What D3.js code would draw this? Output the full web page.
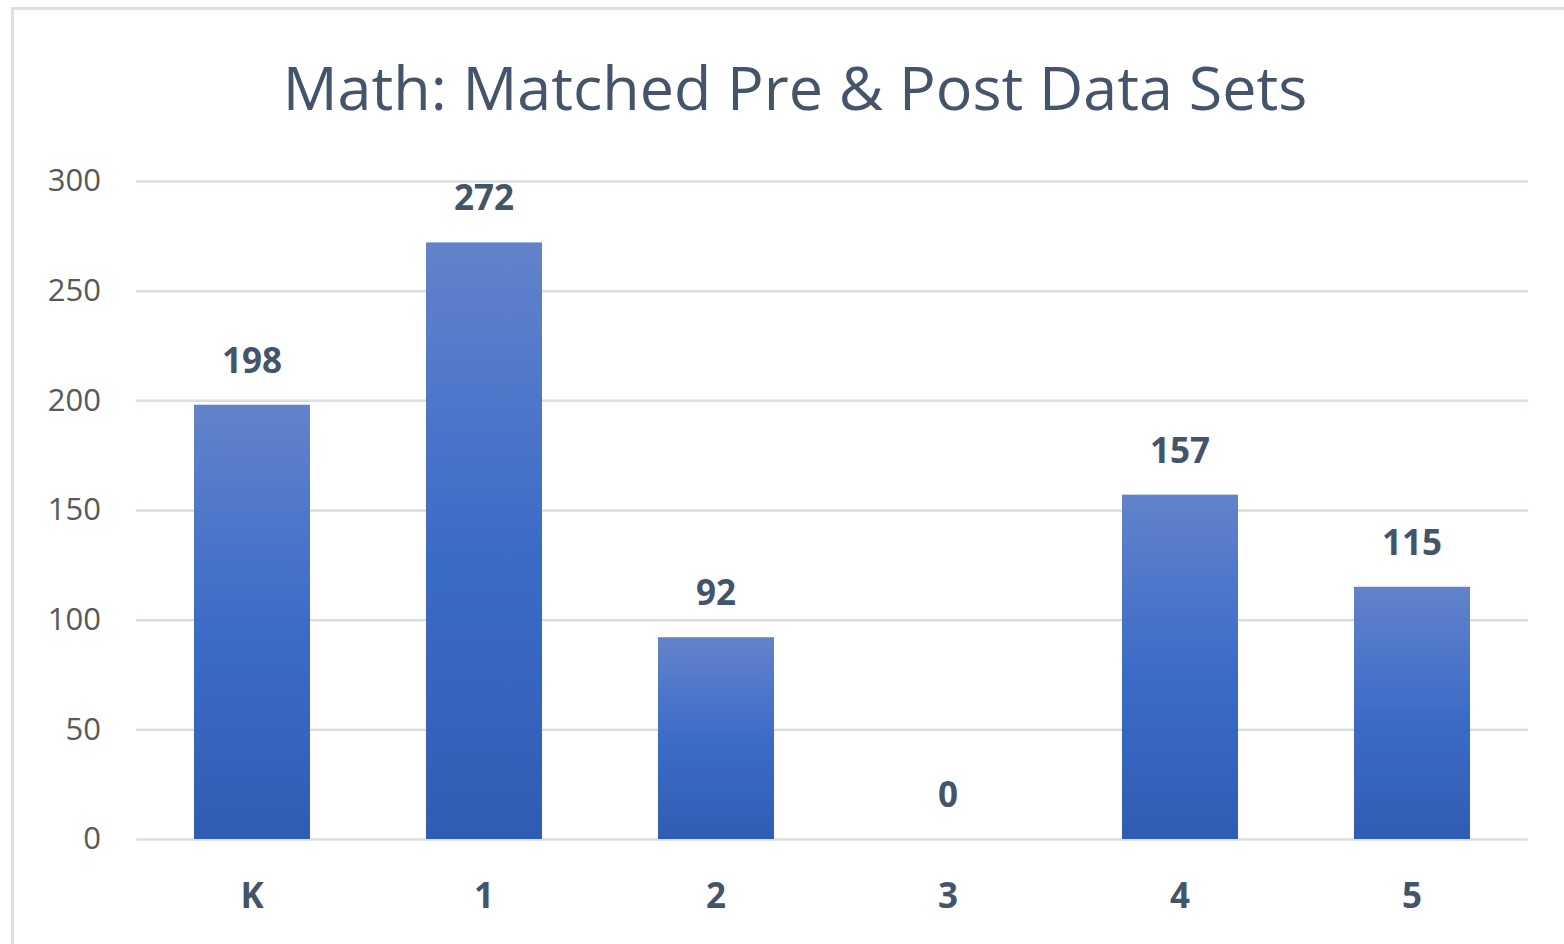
<!DOCTYPE html>
<html lang="en">
<head>
    <meta charset="UTF-8">
    <title>Math: Matched Pre & Post Data Sets</title>
    <script src="https://d3js.org/d3.v7.min.js"></script>
    <style>
        body { margin: 0; background: #fff; }
        text { font-family: "Open Sans", "Noto Sans", sans-serif; }
    </style>
</head>
<body>
    <div id="chart"></div>
    <script>
        const grades = ["K", "1", "2", "3", "4", "5"];
        const matchedCounts = [198, 272, 92, 0, 157, 115];
        const yTicks = [0, 50, 100, 150, 200, 250, 300];
        const title = "Math: Matched Pre & Post Data Sets";

        const width = 1564;
        const height = 944;
        const margin = { top: 181, right: 36, bottom: 105, left: 136 };

        const svg = d3.select("#chart").append("svg")
            .attr("width", width)
            .attr("height", height);

        // bar gradient, lighter at top
        const grad = svg.append("defs").append("linearGradient")
            .attr("id", "barGrad")
            .attr("x1", 0).attr("y1", 0).attr("x2", 0).attr("y2", 1);
        grad.append("stop").attr("offset", "0%").attr("stop-color", "#6283cb");
        grad.append("stop").attr("offset", "50%").attr("stop-color", "#3d6cc8");
        grad.append("stop").attr("offset", "100%").attr("stop-color", "#2f5db5");

        // chart frame
        svg.append("rect")
            .attr("x", 12.5).attr("y", 8.5)
            .attr("width", width + 20).attr("height", height + 20)
            .attr("fill", "none")
            .attr("stroke", "#d9e0e8")
            .attr("stroke-width", 3);

        const x = d3.scaleBand()
            .domain(grades)
            .range([margin.left, width - margin.right])
            .paddingInner(0.5)
            .paddingOuter(0.25);

        const y = d3.scaleLinear()
            .domain([0, 300])
            .range([height - margin.bottom, margin.top]);

        svg.append("text")
            .attr("x", 795)
            .attr("y", 110)
            .attr("text-anchor", "middle")
            .attr("fill", "#44546a")
            .attr("font-size", 61)
            .text(title);

        const yAxis = svg.append("g")
            .attr("transform", `translate(${margin.left},0)`)
            .call(d3.axisLeft(y).tickValues(yTicks)
                .tickSize(-(width - margin.left - margin.right))
                .tickPadding(35));
        yAxis.select(".domain").remove();
        yAxis.selectAll(".tick line")
            .attr("stroke", "#d9dee5")
            .attr("stroke-width", 2.5);
        yAxis.selectAll(".tick text")
            .attr("fill", "#595959")
            .attr("font-size", 31)
            .attr("font-family", "Open Sans, sans-serif");

        svg.selectAll(".bar")
            .data(matchedCounts)
            .enter()
            .append("rect")
            .attr("class", "bar")
            .attr("x", (d, i) => x(grades[i]))
            .attr("y", d => y(d))
            .attr("width", x.bandwidth())
            .attr("height", d => y(0) - y(d))
            .attr("fill", "url(#barGrad)");

        svg.selectAll(".val")
            .data(matchedCounts)
            .enter()
            .append("text")
            .attr("class", "val")
            .attr("x", (d, i) => x(grades[i]) + x.bandwidth() / 2)
            .attr("y", d => y(d) - 32)
            .attr("text-anchor", "middle")
            .attr("fill", "#44546a")
            .attr("font-size", 35)
            .attr("font-weight", "bold")
            .text(d => d);

        const xAxis = svg.append("g")
            .attr("transform", `translate(0,${height - margin.bottom})`)
            .call(d3.axisBottom(x).tickSize(0).tickPadding(44));
        xAxis.select(".domain").remove();
        xAxis.selectAll(".tick text")
            .attr("fill", "#44546a")
            .attr("font-size", 35)
            .attr("font-weight", "bold")
            .attr("font-family", "Open Sans, sans-serif");
    </script>
</body>
</html>
